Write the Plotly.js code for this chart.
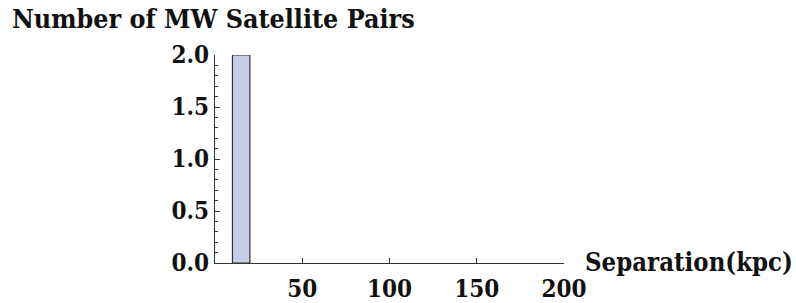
<!DOCTYPE html>
<html>
<head>
<meta charset="utf-8">
<script src="https://cdn.plot.ly/plotly-3.0.1.min.js"></script>
<style>html,body{margin:0;padding:0;background:#fff;}#chart{width:796px;height:303px;}</style>
</head>
<body>
<div id="chart"></div>
<script>
// Histogram of separations (kpc): bin edges and counts
const binStarts = [10];
const binEnds = [20];
const counts = [2];
const xTickVals = [50, 100, 150, 200];
const xTickText = ['50', '100', '150', '200'];
const yTickVals = [0, 0.5, 1.0, 1.5, 2.0];
const yTickText = ['0.0', '0.5', '1.0', '1.5', '2.0'];
const yTitle = 'Number of MW Satellite Pairs';
const xTitle = 'Separation(kpc)';

const centers = binStarts.map((s, i) => (s + binEnds[i]) / 2);
const widths = binStarts.map((s, i) => binEnds[i] - s);

const fontFam = '"DejaVu Serif Condensed", "DejaVu Serif", serif';
const axisColor = '#333333';
const txt = '#111111';

const trace = {
  type: 'bar',
  x: centers,
  y: counts,
  width: widths,
  marker: {color: '#c6cbe9', line: {color: '#333333', width: 1.2}},
  cliponaxis: false,
  hoverinfo: 'none'
};

const layout = {
  width: 796, height: 303,
  margin: {l: 215, r: 232, t: 55, b: 40},
  paper_bgcolor: '#ffffff', plot_bgcolor: '#ffffff',
  showlegend: false,
  font: {family: fontFam, size: 24, color: txt, weight: 'bold'},
  xaxis: {
    range: [0, 200], showgrid: false, zeroline: false,
    showline: true, linecolor: axisColor, linewidth: 1.2,
    ticks: 'inside', ticklen: 5, tickcolor: axisColor, tickwidth: 1,
    tickmode: 'array', tickvals: xTickVals, ticktext: xTickText,
    ticklabelstandoff: 4,
    tickfont: {family: fontFam, size: 24, color: txt, weight: 'bold'},
    fixedrange: true
  },
  yaxis: {
    range: [0, 2], showgrid: false, zeroline: false,
    showline: true, linecolor: axisColor, linewidth: 1.2,
    ticks: 'inside', ticklen: 5, tickcolor: axisColor, tickwidth: 1,
    tickmode: 'array', tickvals: yTickVals, ticktext: yTickText,
    tickfont: {family: fontFam, size: 24, color: txt, weight: 'bold'},
    minor: {dtick: 0.1, ticks: 'inside', ticklen: 3, tickcolor: axisColor, tickwidth: 1, showgrid: false},
    fixedrange: true
  },
  annotations: [
    {text: yTitle, xref: 'paper', yref: 'paper', x: -205/349, y: 1 + 36/208,
     xanchor: 'left', yanchor: 'middle', showarrow: false,
     font: {family: fontFam, size: 26.6, color: txt, weight: 'bold'}},
    {text: xTitle, xref: 'paper', yref: 'paper', x: (583-215)/349, y: 1/208,
     xanchor: 'left', yanchor: 'middle', showarrow: false,
     font: {family: fontFam, size: 25.5, color: txt, weight: 'bold'}}
  ]
};

Plotly.newPlot('chart', [trace], layout, {displayModeBar: false, staticPlot: true});
</script>
</body>
</html>
